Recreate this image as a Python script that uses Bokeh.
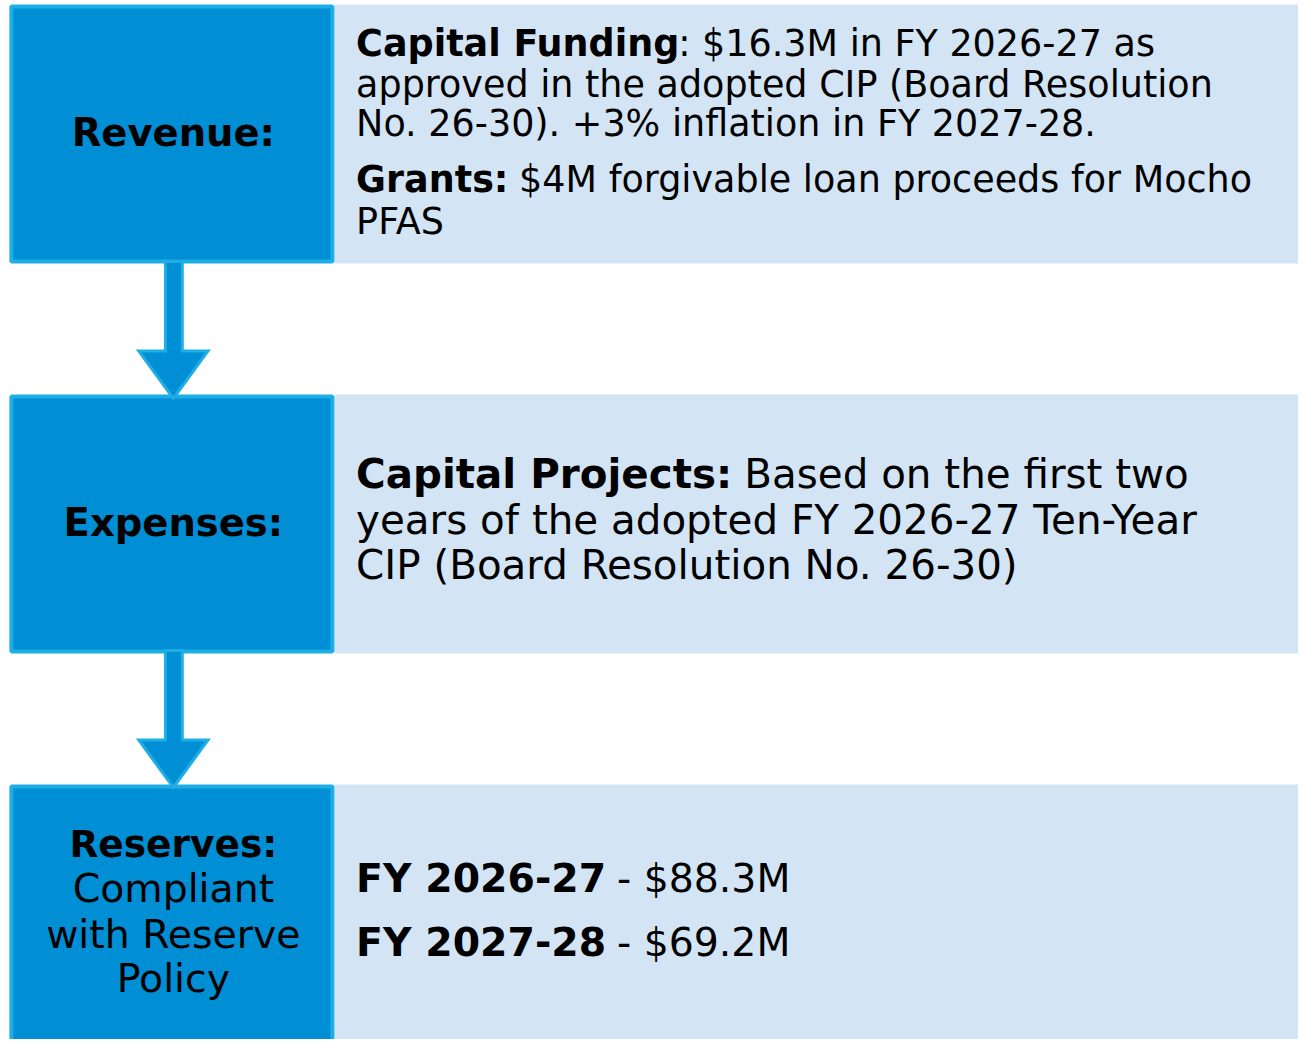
from bokeh.plotting import figure
from bokeh.models import Range1d
from bokeh.core.properties import value
from bokeh.embed import file_html
from bokeh.resources import INLINE

# ---- content ----
section_labels = ["Revenue:", "Expenses:", "Reserves:"]
reserve_note = ["Compliant", "with Reserve", "Policy"]

revenue_lines = [
    ("Capital Funding", ": $16.3M in FY 2026-27 as"),
    ("", "approved in the adopted CIP (Board Resolution"),
    ("", "No. 26-30). +3% inflation in FY 2027-28."),
    ("Grants:", "$4M forgivable loan proceeds for Mocho"),
    ("", "PFAS"),
]
expense_lines = [
    ("Capital Projects:", "Based on the first two"),
    ("", "years of the adopted FY 2026-27 Ten-Year"),
    ("", "CIP (Board Resolution No. 26-30)"),
]
reserve_years = ["FY 2026-27", "FY 2027-28"]
reserve_values = ["$88.3M", "$69.2M"]

# ---- layout (reference pixel space) ----
W, H = 1314, 1055
PW, PH = 1298, 1039
S = 0.986
FONT = value("DejaVu Sans")
DARK = "#008ED4"
EDGE = "#1EAEE6"
LIGHT = "#D3E5F4"

row_top = [4, 400, 796]
row_bot = [267, 663, 1070]

p = figure(width=PW, height=PH, x_range=Range1d(0, W), y_range=Range1d(H, 0),
           output_backend="svg", toolbar_location=None, min_border=0,
           x_axis_location=None, y_axis_location=None)
p.grid.visible = False
p.outline_line_color = None
p.background_fill_color = "white"
p.border_fill_color = "white"

# light panels
p.quad(left=[338] * 3, right=[W + 10] * 3, top=row_top, bottom=row_bot,
       fill_color=LIGHT, line_color=None)
# dark boxes
p.quad(left=[11] * 3, right=[336] * 3, top=[t + 2 for t in row_top],
       bottom=[b - 2 for b in row_bot], fill_color=DARK, line_color=EDGE, line_width=4)

# arrows
for off in (0, 395):
    xs = [167, 184, 184, 210, 175, 140, 167]
    ys = [265, 265, 356, 356, 404, 356, 356]
    p.patch(x=xs, y=[y + off for y in ys], fill_color=DARK, line_color=EDGE,
            line_width=3, line_join="miter")


def txt(x, y, t, size, bold=False, align="left"):
    y = y - 0.35 * size
    p.text(x=[x], y=[y], text=[t], text_font=FONT,
           text_font_size=f"{size * S:.1f}px",
           text_font_style="bold" if bold else "normal",
           text_align=align, text_baseline="alphabetic", text_color="black")


# left labels
txt(175, 148, section_labels[0], 39, bold=True, align="center")
txt(175, 544, section_labels[1], 39, bold=True, align="center")
txt(175, 870, section_labels[2], 38, bold=True, align="center")
for t, y in zip(reserve_note, [915, 962, 1007]):
    txt(175, y, t, 40, align="center")

# revenue text
rev_base = [57, 98, 138, 195, 237]
rev_regx = [686, 360, 360, 525, 360]
for (b, r), y, rx in zip(revenue_lines, rev_base, rev_regx):
    if b:
        txt(360, y, b, 37, bold=True)
    txt(rx, y, r, 37)

# expense text
exp_base = [495, 542, 588]
exp_regx = [753, 360, 360]
for (b, r), y, rx in zip(expense_lines, exp_base, exp_regx):
    if b:
        txt(360, y, b, 41, bold=True)
    txt(rx, y, r, 41)

# reserve text
for yr, val, y in zip(reserve_years, reserve_values, [905, 970]):
    txt(360, y, yr, 40, bold=True)
    txt(624, y, "- " + val, 40)

open("out.html", "w").write(file_html(p, INLINE))
